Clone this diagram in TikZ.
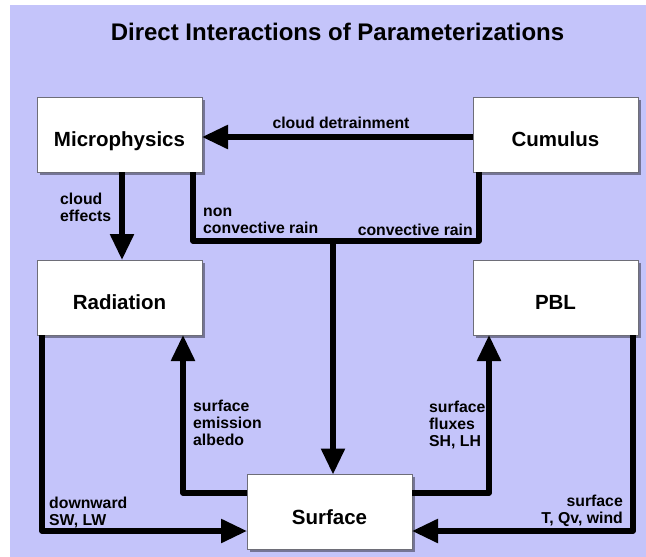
\documentclass[tikz,border=0pt]{standalone}
\usepackage{fontspec}
\setmainfont{Liberation Sans}
\usetikzlibrary{arrows.meta,shadows}
\definecolor{bgc}{RGB}{196,196,250}
\definecolor{edgegray}{RGB}{110,110,120}
\begin{document}
\begin{tikzpicture}[x=1pt,y=-1pt,
  box/.style={draw=edgegray, line width=0.8pt, fill=white, minimum width=165pt, minimum height=75pt,
    inner sep=0pt, outer sep=0pt, font=\bfseries\fontsize{20.5}{22}\selectfont,
    text height=26pt, text depth=2pt,
    drop shadow={shadow xshift=2.5pt, shadow yshift=-2.5pt, fill=black, opacity=0.4}},
  conn/.style={line width=5.5pt, line join=round, draw=black},
  arr/.style={conn, -{Triangle[length=26pt,width=23pt]}},
  lbl/.style={font=\bfseries\fontsize{15.8}{17}\selectfont, inner sep=0pt, align=left},
  lblr/.style={font=\bfseries\fontsize{15.8}{17}\selectfont, inner sep=0pt, align=right}]
\useasboundingbox (0,0) rectangle (646,557);
\fill[bgc] (10,5) rectangle (646,557);
\node[font=\bfseries\fontsize{24}{28}\selectfont] (title) at (337.5,32) {Direct Interactions of Parameterizations};
\node[box] (mic) at (119.5,134.5) {Microphysics};
\node[box] (cum) at (555.5,134.5) {Cumulus};
\node[box] (rad) at (119.5,297.5) {Radiation};
\node[box] (pbl) at (555.5,297.5) {PBL};
\node[box] (sur) at (329.5,512) {Surface};
\coordinate (j) at (333,241);
\coordinate (xnc) at (193,241);
\coordinate (xcr) at (479,241);
\coordinate (xme) at (122,0);
\coordinate (ycd) at (0,137);
\coordinate (xr1) at (42,531);
\coordinate (xr2) at (183,493);
\coordinate (xp1) at (489,493);
\coordinate (xp2) at (633,531);
% connectors
\draw[arr] (cum.west |- ycd) -- (mic.east |- ycd);
\draw[arr] (mic.south -| xme) -- (rad.north -| xme);
\draw[conn] (mic.south -| xnc) -- (xnc) -- (xcr) -- (cum.south -| xcr);
\draw[arr] (j) -- (sur.north -| j);
\draw[arr] (rad.south -| xr1) -- (xr1) -- (sur.west |- xr1);
\draw[arr] (sur.west |- xr2) -- (xr2) -- (rad.south -| xr2);
\draw[arr] (sur.east |- xp1) -- (xp1) -- (pbl.south -| xp1);
\draw[arr] (pbl.south -| xp2) -- (xp2) -- (sur.east |- xp2);
% labels
\node[lbl, anchor=base] (l1) at (341,128) {cloud detrainment};
\node[lbl, anchor=north west] (l2) at (60,193) {cloud\\effects};
\node[lbl, anchor=north west] (l3) at (203,208) {non\\convective rain};
\node[lblr, anchor=north east] (l4) at (473,224) {convective rain};
\node[lbl, anchor=north west] (l5) at (193,400) {surface\\emission\\albedo};
\node[lbl, anchor=north west] (l6) at (429,401) {surface\\fluxes\\SH, LH};
\node[lbl, anchor=north west] (l7) at (49,497) {downward\\SW, LW};
\node[lblr, anchor=north east] (l8) at (623,495) {surface\\T, Qv, wind};
\end{tikzpicture}
\end{document}
